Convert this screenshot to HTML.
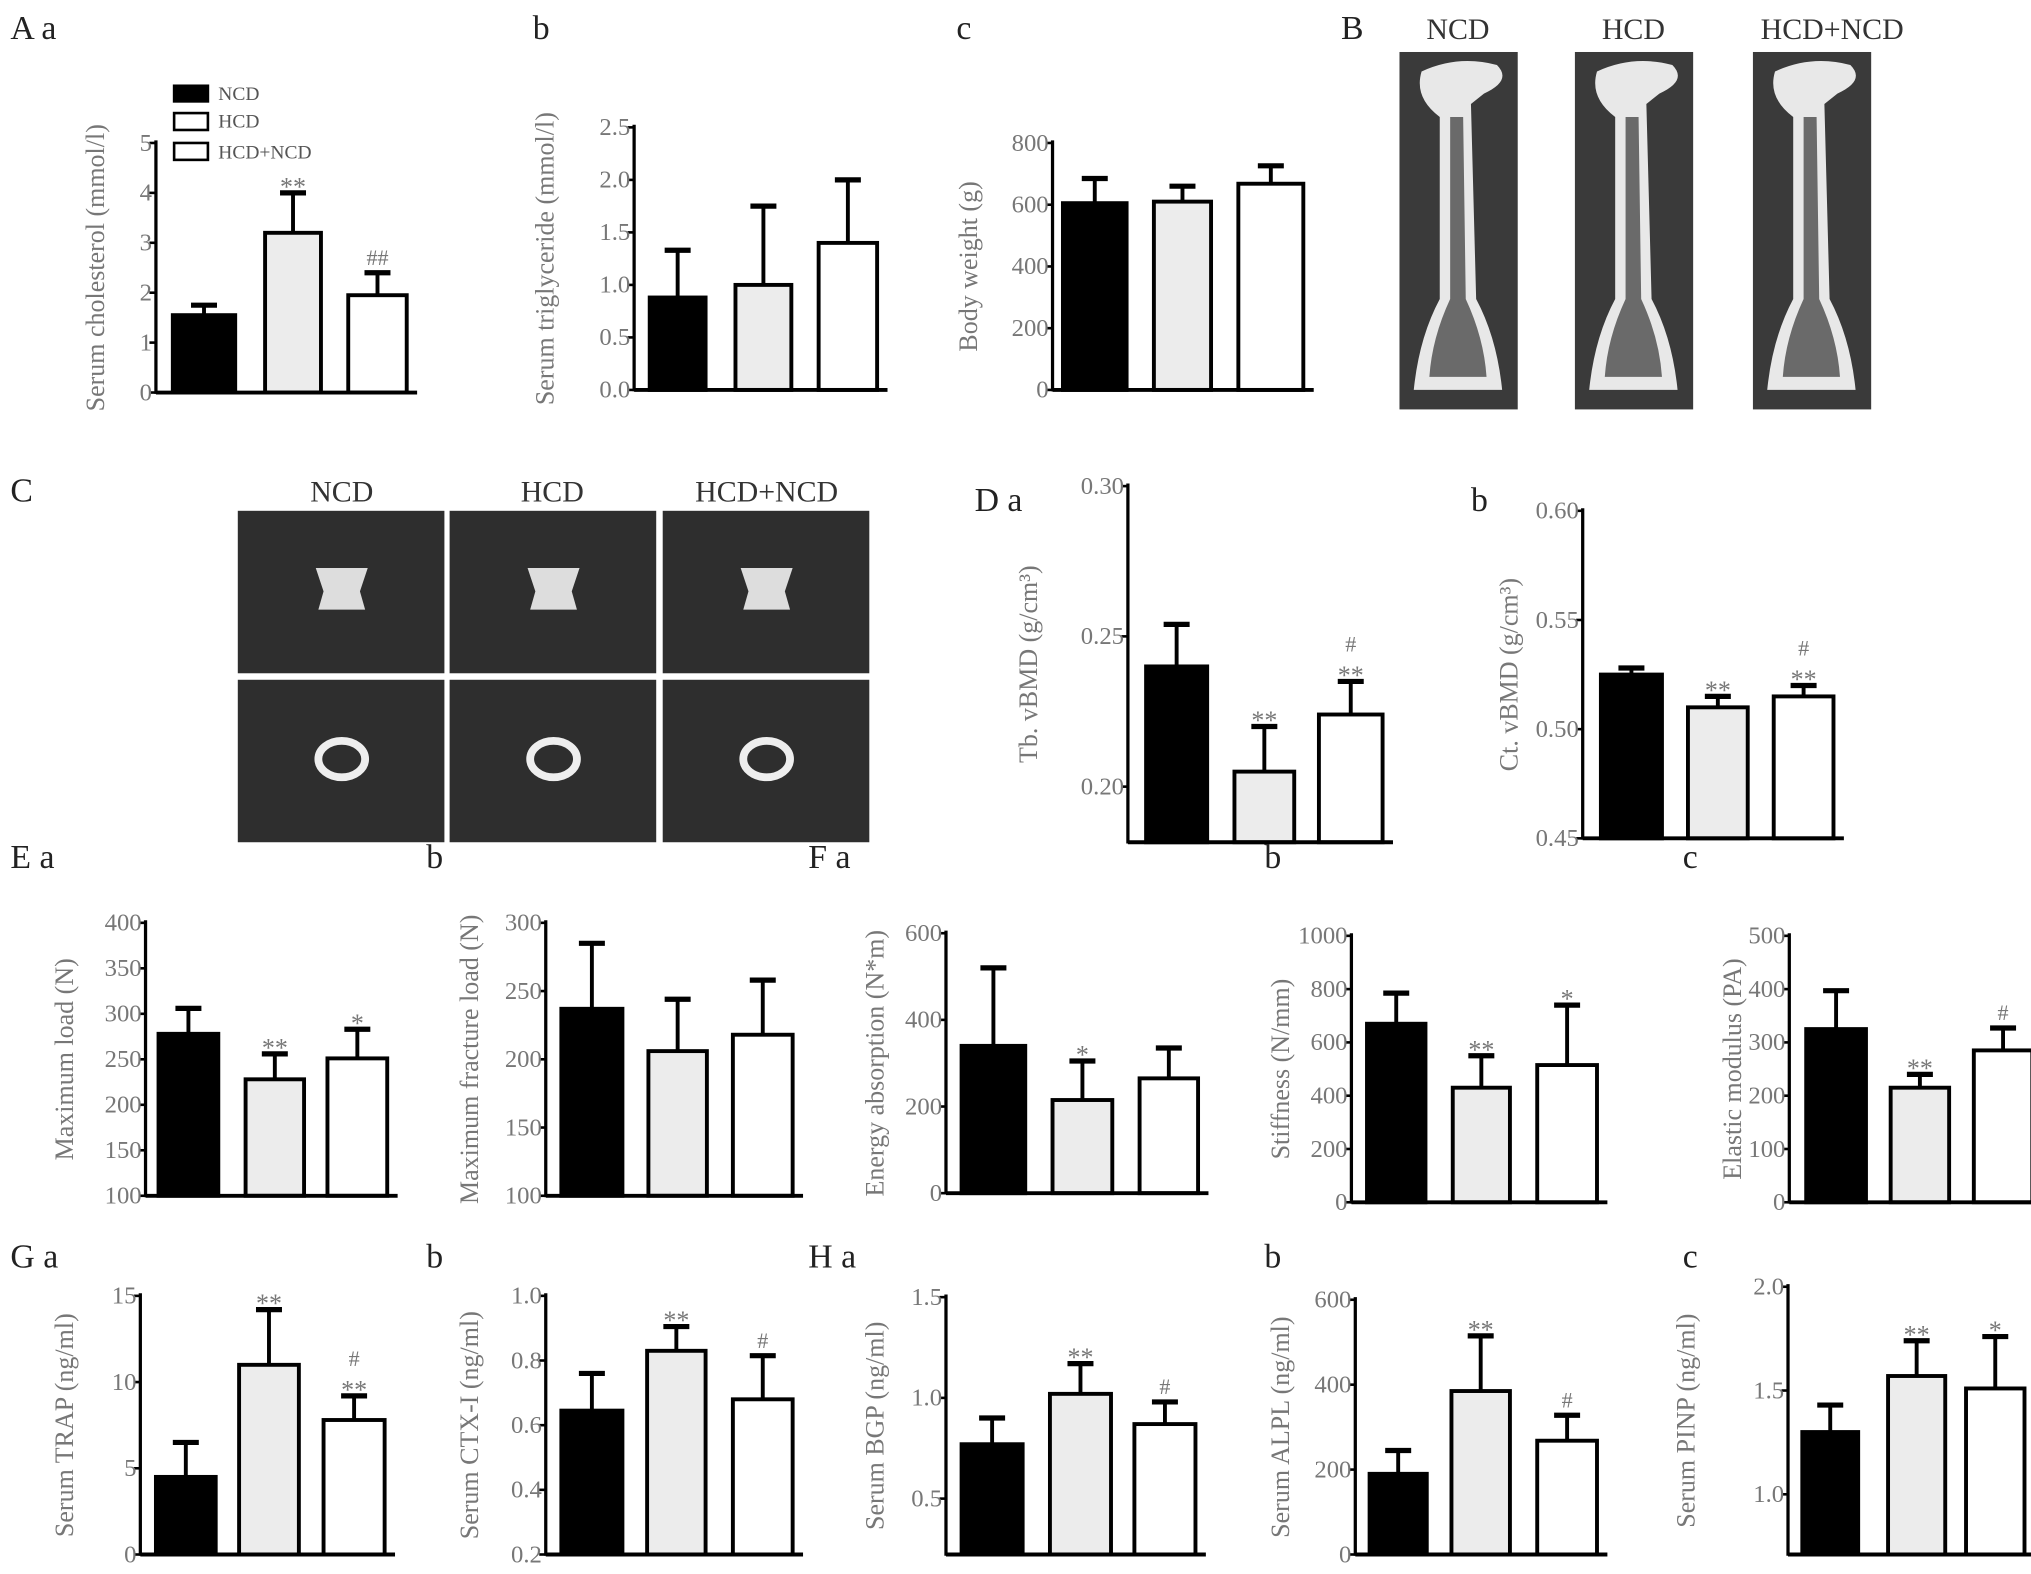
<!DOCTYPE html>
<html><head><meta charset="utf-8"><style>
html,body{margin:0;padding:0;background:#fff}
svg{display:block}
text{font-family:"Liberation Serif",serif}
</style></head><body>
<svg id="fig" width="2031" height="1574" viewBox="0 0 1563 1211" preserveAspectRatio="none" xmlns="http://www.w3.org/2000/svg">
<g id="labels" font-size="26" fill="#222">
<text x="8" y="30">A a</text>
<text x="410" y="30">b</text>
<text x="736" y="30">c</text>
<text x="1032" y="30">B</text>
<text x="8" y="386">C</text>
<text x="750" y="393">D a</text>
<text x="1132" y="393">b</text>
<text x="8" y="668">E a</text>
<text x="328" y="668">b</text>
<text x="622" y="668">F a</text>
<text x="973" y="668">b</text>
<text x="1295" y="668">c</text>
<text x="8" y="975">G a</text>
<text x="328" y="975">b</text>
<text x="622" y="975">H a</text>
<text x="973" y="975">b</text>
<text x="1295" y="975">c</text>
</g>
<g id="legend" font-size="15" fill="#555">
<rect x="134" y="66" width="26" height="12" fill="#000" stroke="#000" stroke-width="2"/>
<text x="168" y="77">NCD</text>
<rect x="134" y="87" width="26" height="13" fill="#fff" stroke="#000" stroke-width="2"/>
<text x="168" y="98">HCD</text>
<rect x="134" y="110" width="26" height="13" fill="#fff" stroke="#000" stroke-width="2"/>
<text x="168" y="122">HCD+NCD</text>
</g>
<g id="images"></g>
<g id="charts"></g>
</svg>
<script>
// ---- data arrays ----
const groups=["NCD","HCD","HCD+NCD"];
const aaMeans=[1.55,3.2,1.95], aaErr=[0.2,0.8,0.45], aaTicks=["0","1","2","3","4","5"], aaAnn=["","**","##"];
const abMeans=[0.88,1.0,1.4], abErr=[0.45,0.75,0.6], abTicks=["0.0","0.5","1.0","1.5","2.0","2.5"], abAnn=["","",""];
const acMeans=[605,610,668], acErr=[80,50,58], acTicks=["0","200","400","600","800"], acAnn=["","",""];
const daMeans=[0.240,0.205,0.224], daErr=[0.014,0.015,0.011], daTicks=["0.20","0.25","0.30"], daAnn=["","**","#\n**"];
const dbMeans=[0.525,0.510,0.515], dbErr=[0.003,0.005,0.005], dbTicks=["0.45","0.50","0.55","0.60"], dbAnn=["","**","#\n**"];
const eaMeans=[278,228,251], eaErr=[28,28,32], eaTicks=["100","150","200","250","300","350","400"], eaAnn=["","**","*"];
const ebMeans=[237,206,218], ebErr=[48,38,40], ebTicks=["100","150","200","250","300"], ebAnn=["","",""];
const faMeans=[340,215,265], faErr=[180,90,70], faTicks=["0","200","400","600"], faAnn=["","*",""];
const fbMeans=[670,430,515], fbErr=[115,120,225], fbTicks=["0","200","400","600","800","1000"], fbAnn=["","**","*"];
const fcMeans=[325,215,285], fcErr=[72,25,42], fcTicks=["0","100","200","300","400","500"], fcAnn=["","**","#"];
const gaMeans=[4.5,11,7.8], gaErr=[2,3.2,1.4], gaTicks=["0","5","10","15"], gaAnn=["","**","#\n**"];
const gbMeans=[0.645,0.83,0.68], gbErr=[0.115,0.075,0.135], gbTicks=["0.2","0.4","0.6","0.8","1.0"], gbAnn=["","**","#"];
const haMeans=[0.77,1.02,0.87], haErr=[0.13,0.15,0.11], haTicks=["0.5","1.0","1.5"], haAnn=["","**","#"];
const hbMeans=[190,385,268], hbErr=[55,130,60], hbTicks=["0","200","400","600"], hbAnn=["","**","#"];
const hcMeans=[1.3,1.57,1.51], hcErr=[0.13,0.17,0.25], hcTicks=["1.0","1.5","2.0"], hcAnn=["","**","*"];

const NS="http://www.w3.org/2000/svg";
function mk(tag,attrs,parent){const e=document.createElementNS(NS,tag);for(const k in attrs)e.setAttribute(k,attrs[k]);parent.appendChild(e);return e;}

const charts=[
 {id:"aa",m:aaMeans,e:aaErr,t:aaTicks,a:aaAnn,ax:120,y0:302,yTop:110,vmin:0,vmax:5,bars:[[133,181],[204,247],[268,313]],lab:"Serum cholesterol (mmol/l)",lx:80},
 {id:"ab",m:abMeans,e:abErr,t:abTicks,a:abAnn,ax:488,y0:300,yTop:98,vmin:0,vmax:2.5,bars:[[500,543],[566,609],[630,675]],lab:"Serum triglyceride (mmol/l)",lx:426},
 {id:"ac",m:acMeans,e:acErr,t:acTicks,a:acAnn,ax:810,y0:300,yTop:110,vmin:0,vmax:800,bars:[[818,867],[888,932],[953,1003]],lab:"Body weight (g)",lx:752},
 {id:"da",m:daMeans,e:daErr,t:daTicks,a:daAnn,ax:868,y0:648,yTop:374,vmin:0.1815,vmax:0.30,bars:[[882,929],[950,996],[1015,1064]],lab:"Tb. vBMD (g/cm³)",lx:798},
 {id:"db",m:dbMeans,e:dbErr,t:dbTicks,a:dbAnn,ax:1218,y0:645,yTop:393,vmin:0.45,vmax:0.60,bars:[[1232,1279],[1299,1345],[1365,1411]],lab:"Ct. vBMD (g/cm³)",lx:1168},
 {id:"ea",m:eaMeans,e:eaErr,t:eaTicks,a:eaAnn,ax:112,y0:920,yTop:710,vmin:100,vmax:400,bars:[[122,168],[189,234],[252,298]],lab:"Maximum load (N)",lx:56},
 {id:"eb",m:ebMeans,e:ebErr,t:ebTicks,a:ebAnn,ax:420,y0:920,yTop:710,vmin:100,vmax:300,bars:[[432,479],[499,544],[564,610]],lab:"Maximum fracture load (N)",lx:368},
 {id:"fa",m:faMeans,e:faErr,t:faTicks,a:faAnn,ax:728,y0:918,yTop:718,vmin:0,vmax:600,bars:[[740,789],[810,856],[877,922]],lab:"Energy absorption (N*m)",lx:680},
 {id:"fb",m:fbMeans,e:fbErr,t:fbTicks,a:fbAnn,ax:1040,y0:925,yTop:720,vmin:0,vmax:1000,bars:[[1052,1097],[1118,1162],[1183,1229]],lab:"Stiffness (N/mm)",lx:992},
 {id:"fc",m:fcMeans,e:fcErr,t:fcTicks,a:fcAnn,ax:1377,y0:925,yTop:720,vmin:0,vmax:500,bars:[[1390,1436],[1455,1500],[1519,1564]],lab:"Elastic modulus (PA)",lx:1340},
 {id:"ga",m:gaMeans,e:gaErr,t:gaTicks,a:gaAnn,ax:108,y0:1196,yTop:997,vmin:0,vmax:15,bars:[[120,166],[184,230],[249,296]],lab:"Serum TRAP (ng/ml)",lx:56},
 {id:"gb",m:gbMeans,e:gbErr,t:gbTicks,a:gbAnn,ax:420,y0:1196,yTop:997,vmin:0.2,vmax:1.0,bars:[[432,479],[498,543],[564,610]],lab:"Serum CTX-I (ng/ml)",lx:368},
 {id:"ha",m:haMeans,e:haErr,t:haTicks,a:haAnn,ax:728,y0:1196,yTop:998,vmin:0.2226,vmax:1.5,bars:[[740,787],[808,855],[873,920]],lab:"Serum BGP (ng/ml)",lx:680},
 {id:"hb",m:hbMeans,e:hbErr,t:hbTicks,a:hbAnn,ax:1043,y0:1196,yTop:1000,vmin:0,vmax:600,bars:[[1054,1098],[1117,1162],[1183,1229]],lab:"Serum ALPL (ng/ml)",lx:992},
 {id:"hc",m:hcMeans,e:hcErr,t:hcTicks,a:hcAnn,ax:1376,y0:1196,yTop:990,vmin:0.71,vmax:2.0,bars:[[1387,1430],[1453,1497],[1513,1558]],lab:"Serum PINP (ng/ml)",lx:1304}
];
const fills=["#000","#ececec","#fff"];
const root=document.getElementById("charts");
charts.forEach(c=>{
 const g=mk("g",{},root);
 
 
 const y=v=>c.y0-(v-c.vmin)/(c.vmax-c.vmin)*(c.y0-c.yTop);
 c.t.forEach(s=>{
  const v=parseFloat(s), ty=y(v);
  const tl=mk("line",{x1:c.ax-5,x2:c.ax,y1:ty,y2:ty,stroke:"#000","stroke-width":2},g);
  
  
  const tx=mk("text",{x:c.ax-3,y:ty+6,"text-anchor":"end","font-size":19,fill:"#777"},g);
  tx.textContent=s;
  
  
 });
 c.m.forEach((v,i)=>{
  const [x1,x2]=c.bars[i], cx=(x1+x2)/2, top=y(v), et=y(v+c.e[i]);
  const el=mk("line",{x1:cx,x2:cx,y1:top,y2:et,stroke:"#000","stroke-width":3},g);
  
  
  const cap=mk("line",{x1:cx-10,x2:cx+10,y1:et,y2:et,stroke:"#000","stroke-width":4},g);
  
  
  const r=mk("rect",{x:x1,y:top,width:x2-x1,height:c.y0-top,fill:fills[i],stroke:"#000","stroke-width":3},g);
  
  
  if(c.a[i]){
   const lines=c.a[i].split("\n");
   lines.forEach((s,k)=>{
    const at=mk("text",{x:cx,y:et-6-(lines.length-1-k)*17+(s.startsWith("*")?8:0),"text-anchor":"middle","font-size":s.startsWith("*")?20:17,fill:"#777"},g);
    at.textContent=s;
    
    
   });
  }
 });
 const ya=mk("line",{x1:c.ax,x2:c.ax,y1:c.yTop-2,y2:c.y0+1,stroke:"#000","stroke-width":2.5},g);
 
 
 const xa=mk("line",{x1:c.ax,x2:c.bars[2][1]+8,y1:c.y0,y2:c.y0,stroke:"#000","stroke-width":3},g);
 
 
 const yl=mk("text",{x:0,y:0,"text-anchor":"middle","font-size":20,fill:"#777",transform:`translate(${c.lx},${(c.y0+c.yTop)/2}) rotate(-90)`},g);
 yl.textContent=c.lab;
 
 
});

const im=document.getElementById("images");
[[1077,1122,"NCD"],[1212,1257,"HCD"],[1349,1410,"HCD+NCD"]].forEach(([x,lx,n])=>{
 const t=mk("text",{x:lx,y:30,"text-anchor":"middle","font-size":23,fill:"#333"},im);
 t.textContent=n;
 
 
 const bg=mk("rect",{x:x,y:40,width:91,height:275,fill:"#3a3a3a"},im);
 
 
 const cx=x+45;
 mk("path",{d:`M${cx-28},55 Q${cx},42 ${cx+30},50 Q${cx+42},62 ${cx+20},72 L${cx+10},80 L${cx+14},230 Q${cx+30},260 ${cx+34},300 L${cx-34},300 Q${cx-30},260 ${cx-14},230 L${cx-14},90 Q${cx-34},75 ${cx-28},55 Z`,fill:"#e8e8e8"},im);
 mk("path",{d:`M${cx-6},90 L${cx+4},90 L${cx+6},230 Q${cx+20},260 ${cx+22},290 L${cx-22},290 Q${cx-20},260 ${cx-6},230 Z`,fill:"#6a6a6a"},im);
});
[[183,263,"NCD"],[346,425,"HCD"],[510,590,"HCD+NCD"]].forEach(([x,lx,n])=>{
 const t=mk("text",{x:lx,y:386,"text-anchor":"middle","font-size":23,fill:"#333"},im);
 t.textContent=n;
 
 
 [393,523].forEach((yy,k)=>{
  const r=mk("rect",{x:x,y:yy,width:159,height:125,fill:"#2e2e2e"},im);
  
  
  const cx=x+80;
  if(k==0) mk("path",{d:`M${cx-20},${yy+44} L${cx+20},${yy+44} L${cx+14},${yy+62} L${cx+18},${yy+76} L${cx-18},${yy+76} L${cx-14},${yy+62} Z`,fill:"#ddd"},im);
  else mk("ellipse",{cx:cx,cy:yy+61,rx:18,ry:14,fill:"none",stroke:"#eee","stroke-width":6},im);
 });
});
</script>
</body></html>
